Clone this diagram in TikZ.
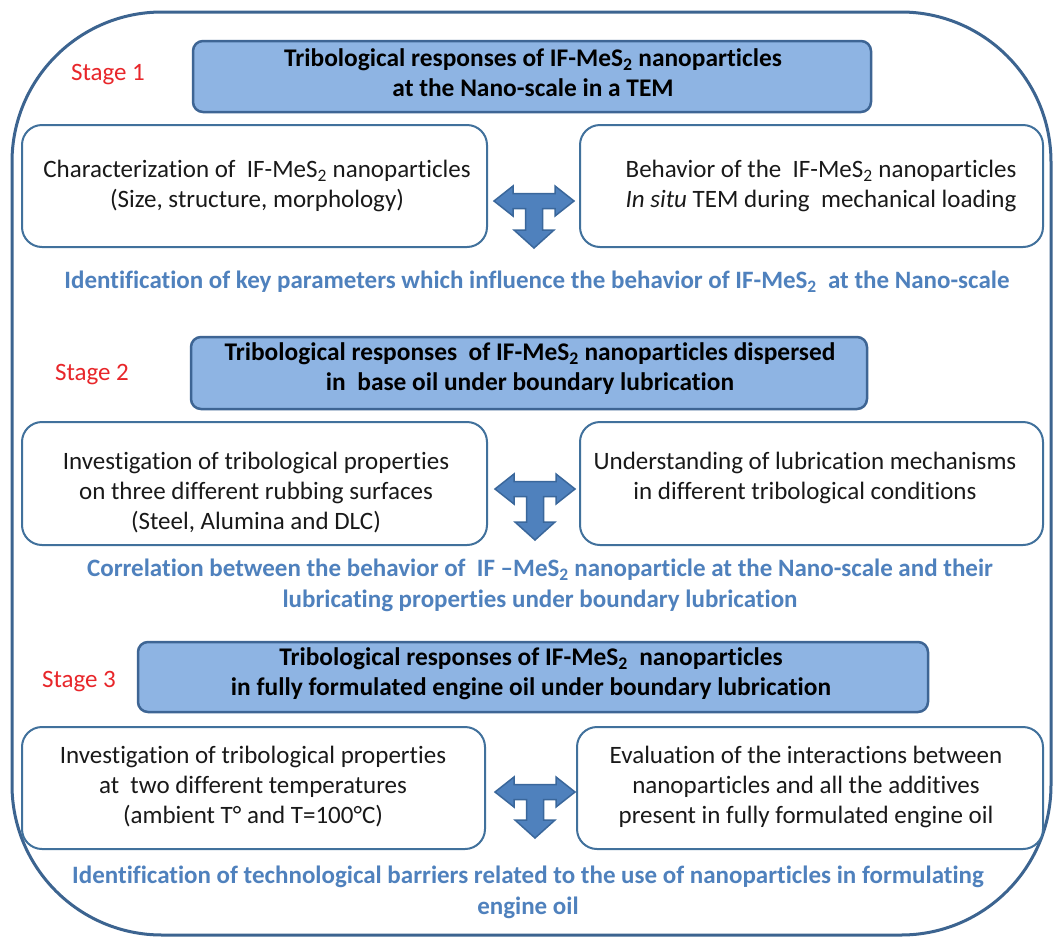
\documentclass[tikz,border=0pt]{standalone}
\usepackage{fontspec}
\setmainfont{Carlito}[Ligatures={NoCommon}]
\definecolor{frame}{HTML}{3C6490}
\definecolor{hdrfill}{HTML}{8EB4E3}
\definecolor{hdrdraw}{HTML}{3E6594}
\definecolor{boxdraw}{HTML}{41719C}
\definecolor{arrfill}{HTML}{4F81BD}
\definecolor{arrdraw}{HTML}{3A679B}
\definecolor{bluetxt}{HTML}{4F81BD}
\definecolor{stagered}{HTML}{E8262A}
\newcommand{\MeS}{MeS\textsubscript{2}}
\newcommand{\Tarrow}[3]{%
  \fill[arrfill,draw=arrdraw,line width=1.5pt,line join=miter]
  (#1-40,#2) -- (#1-21,#2-15) -- (#1-21,#2-7.5) -- (#1+21,#2-7.5) -- (#1+21,#2-15)
  -- (#1+40,#2) -- (#1+21,#2+15) -- (#1+21,#2+7.5) -- (#1+8.5,#2+7.5)
  -- (#1+8.5,#3-18) -- (#1+20,#3-18) -- (#1,#3) -- (#1-20,#3-18) -- (#1-8.5,#3-18)
  -- (#1-8.5,#2+7.5) -- (#1-21,#2+7.5) -- (#1-21,#2+15) -- cycle;}
\tikzset{
  hdr/.style={draw=hdrdraw,fill=hdrfill,line width=2.5pt,rounded corners=10pt},
  wbox/.style={draw=boxdraw,line width=2pt,rounded corners=20pt,fill=white},
  txt/.style={align=center,inner sep=0pt,font=\fontsize{25}{30}\selectfont,text=black!90},
  htxt/.style={align=center,inner sep=0pt,font=\fontsize{25.4}{30}\selectfont\bfseries,text=black},
  btxt/.style={align=center,inner sep=0pt,font=\fontsize{25}{31}\selectfont\bfseries,text=bluetxt},
  stg/.style={inner sep=0pt,font=\fontsize{25}{30}\selectfont,text=stagered},
}
\begin{document}
\begin{tikzpicture}[x=1pt,y=-1pt]
\useasboundingbox (0,0) rectangle (1053,938);
\fill[white] (0,0) rectangle (1053,938);
% outer frame
\draw[frame,line width=3pt,rounded corners=150pt] (12,12) rectangle (1051,935);

% ---------- Stage 1
\node[stg] (s1) at (108,75) {Stage 1};
\draw[hdr] (193,41) rectangle (871,112);
\node[htxt] (h1) at (533,73) {Tribological responses of IF-\MeS{} nanoparticles\\at the Nano-scale in a TEM};
\draw[wbox] (22,125) rectangle (487,247);
\node[txt] (l1) at (257,186) {Characterization of\ \ IF-\MeS{} nanoparticles\\(Size, structure, morphology)};
\draw[wbox] (580,125) rectangle (1043,247);
\node[txt] (r1) at (821,186) {Behavior of the\ \ IF-\MeS{} nanoparticles\\\textit{In situ} TEM during\ \ mechanical loading};
\Tarrow{534}{201}{248}
\node[btxt] (b1) at (537,282) {Identification of key parameters which influence the behavior of IF-\MeS{}\ \ at the Nano-scale};

% ---------- Stage 2
\node[stg] (s2) at (92,375) {Stage 2};
\draw[hdr] (191,337) rectangle (867,409);
\node[htxt] (h2) at (530,369) {Tribological responses\ \ of IF-\MeS{} nanoparticles dispersed\\in\ \ base oil under boundary lubrication};
\draw[wbox] (22,422) rectangle (487,545);
\node[txt] (l2) at (256,493) {Investigation of tribological properties\\on three different rubbing surfaces\\(Steel, Alumina and DLC)};
\draw[wbox] (580,422) rectangle (1043,545);
\node[txt] (r2) at (805,478) {Understanding of lubrication mechanisms\\in different tribological conditions};
\Tarrow{535}{489}{540}
\node[btxt] (b2) at (540,585.5) {Correlation between the behavior of\ \ IF --\MeS{} nanoparticle at the Nano-scale and their\\lubricating properties under boundary lubrication};

% ---------- Stage 3
\node[stg] (s3) at (79,682) {Stage 3};
\draw[hdr] (138,642) rectangle (928,712);
\node[htxt] (h3) at (531,674) {Tribological responses of IF-\MeS{}\ \ nanoparticles\\in fully formulated engine oil under boundary lubrication};
\draw[wbox] (22,727) rectangle (485,849);
\node[txt] (l3) at (253,787) {Investigation of tribological properties\\at\ \ two different temperatures\\(ambient T° and T=100°C)};
\draw[wbox] (577,727) rectangle (1043,849);
\node[txt] (r3) at (806,787) {Evaluation of the interactions between\\nanoparticles and all the additives\\present in fully formulated engine oil};
\Tarrow{535}{792}{838}
\node[btxt] (b3) at (528,892.5) {Identification of technological barriers related to the use of nanoparticles in formulating\\engine oil};
\end{tikzpicture}
\end{document}
